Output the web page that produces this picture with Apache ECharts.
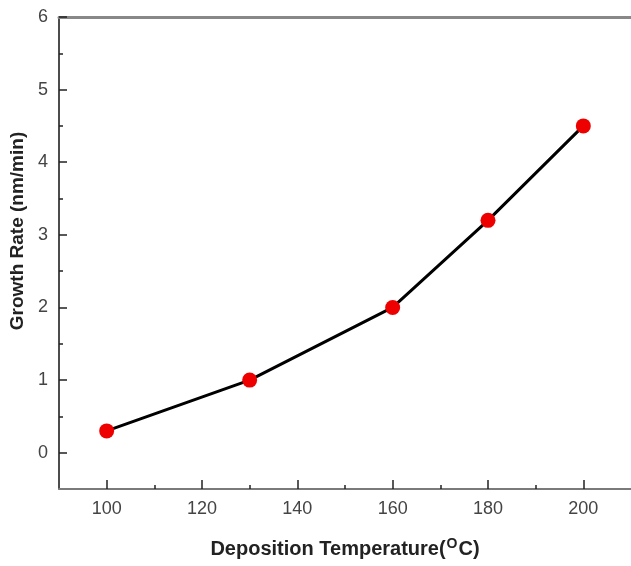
<!DOCTYPE html>
<html>
<head>
<meta charset="utf-8">
<script src="https://cdn.jsdelivr.net/npm/echarts@6/dist/echarts.min.js"></script>
<style>html,body{margin:0;padding:0;background:#fff}#c{width:631px;height:566px}</style>
</head>
<body>
<div id="c"></div>
<script>
const temperatures = [100, 130, 160, 180, 200];
const growthRates = [0.3, 1.0, 2.0, 3.2, 4.5];
const xMajorTicks = [100, 120, 140, 160, 180, 200];
const xMinorTicks = [110, 130, 150, 170, 190];
const yMajorTicks = [0, 1, 2, 3, 4, 5, 6];
const yMinorTicks = [0.5, 1.5, 2.5, 3.5, 4.5, 5.5];

const chart = echarts.init(document.getElementById('c'), null, {renderer: 'canvas'});
const font = 'Liberation Sans, Arial, sans-serif';
const xMin = 90, xMax = 210, yMin = -0.5, yMax = 6;

function tickAxis(position, min, max, values, len) {
  return {
    type: 'value', position: position, min: min, max: max,
    axisLine: {show: false, onZero: false},
    axisTick: {show: true, inside: true, length: len, customValues: values, lineStyle: {color: '#222', width: 1.5}},
    axisLabel: {show: false},
    splitLine: {show: false}
  };
}

chart.setOption({
  animation: false,
  backgroundColor: '#fff',
  grid: {left: 59, top: 17, width: 578, height: 472, containLabel: false},
  xAxis: [
    {
      type: 'value', position: 'bottom', min: xMin, max: xMax,
      axisLine: {show: true, onZero: false, lineStyle: {color: '#7a7a7a', width: 2}},
      axisTick: {show: false},
      axisLabel: {show: true, customValues: xMajorTicks, margin: 11, color: '#444', fontSize: 18, fontFamily: font},
      splitLine: {show: false},
      name: '{a|Deposition Temperature(}{s|O}{a|C)}',
      nameLocation: 'middle', nameGap: 48,
      nameTextStyle: {
        rich: {
          a: {fontSize: 20, fontWeight: 'bold', fontFamily: font, color: '#222'},
          s: {fontSize: 14, fontWeight: 'bold', fontFamily: font, color: '#222', verticalAlign: 'bottom', padding: [0, 1, 10, 1]}
        }
      }
    },
    tickAxis('bottom', xMin, xMax, xMajorTicks, 9),
    tickAxis('bottom', xMin, xMax, xMinorTicks, 4),
    {
      type: 'value', position: 'top', min: xMin, max: xMax,
      axisLine: {show: true, onZero: false, lineStyle: {color: '#888', width: 3}},
      axisTick: {show: false}, axisLabel: {show: false}, splitLine: {show: false}
    }
  ],
  yAxis: [
    {
      type: 'value', position: 'left', min: yMin, max: yMax,
      axisLine: {show: true, onZero: false, lineStyle: {color: '#111', width: 1.5}},
      axisTick: {show: false},
      axisLabel: {show: true, customValues: yMajorTicks, margin: 11, color: '#444', fontSize: 18, fontFamily: font},
      splitLine: {show: false},
      name: 'Growth Rate (nm/min)',
      nameLocation: 'middle', nameGap: 23, nameRotate: 90,
      nameTextStyle: {fontSize: 19, fontWeight: 'bold', fontFamily: font, color: '#222', padding: [0, 0, 0, 44]}
    },
    tickAxis('left', yMin, yMax, yMajorTicks, 8),
    tickAxis('left', yMin, yMax, yMinorTicks, 4)
  ],
  series: [{
    type: 'line',
    xAxisIndex: 0, yAxisIndex: 0,
    data: temperatures.map((t, i) => [t, growthRates[i]]),
    symbol: 'circle', symbolSize: 15,
    itemStyle: {color: '#ee0000'},
    lineStyle: {color: '#000', width: 3},
    z: 3
  }]
});
</script>
</body>
</html>
